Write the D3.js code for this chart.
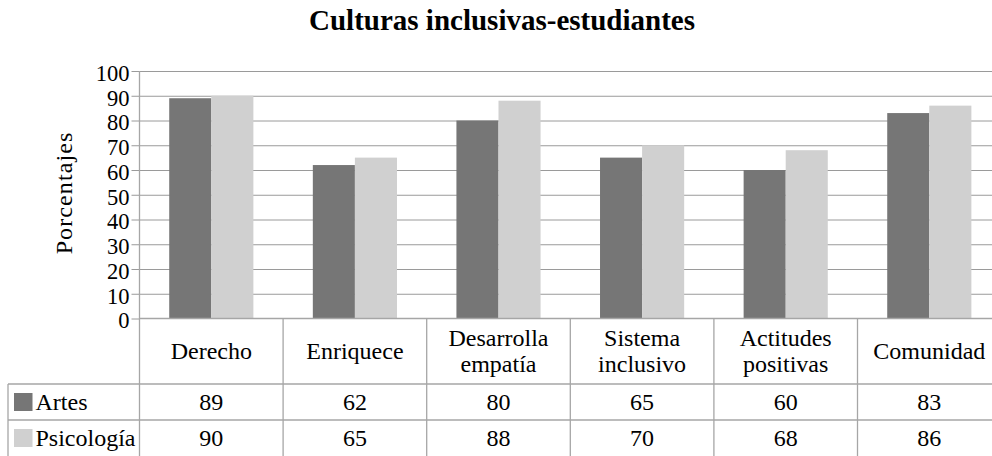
<!DOCTYPE html>
<html>
<head>
<meta charset="utf-8">
<script src="https://cdn.jsdelivr.net/npm/d3@7"></script>
<style>
  html, body { margin: 0; padding: 0; background: #fff; }
  svg { display: block; overflow: hidden; }
  text { font-family: "Liberation Serif", "Times New Roman", serif; fill: #000; }
  .grid line { stroke: #9a9a9a; stroke-width: 1; }
  .grid path { display: none; }
  .axis line, .axis path { stroke: #9a9a9a; }
  .axis text { font-size: 22.5px; font-family: "Liberation Serif", "Times New Roman", serif; }
  .cell { font-size: 24px; }
  .title { font-size: 29px; font-weight: bold; }
</style>
</head>
<body>
<div id="chart"></div>
<script>
let categories = [["Derecho"], ["Enriquece"], ["Desarrolla", "empatía"], ["Sistema", "inclusivo"], ["Actitudes", "positivas"], ["Comunidad"]];
let seriesNames = ["Artes", "Psicología"];
let artes = [89, 62, 80, 65, 60, 83];
let psicologia = [90, 65, 88, 70, 68, 86];
let yTicks = [0, 10, 20, 30, 40, 50, 60, 70, 80, 90, 100];
let colors = ["#767676", "#d0d0d0"];

let canvasWidth = 992;
let canvasHeight = 456;
let plotLeft = 139.5;
let plotTop = 71;
let plotBottom = 318.5;
let step = 143.6;
let plotRight = plotLeft + step * categories.length;
let rowY = [plotBottom, 384, 420, 456];
let tableLeft = 8;

let svg = d3.select("#chart")
    .append("svg")
    .attr("width", canvasWidth)
    .attr("height", canvasHeight);

let keys = categories.map(d => d.join(" "));
let series = [artes, psicologia];

let xScale = d3.scaleBand()
    .domain(keys)
    .range([plotLeft, plotRight]);

let pad = xScale.bandwidth() * 0.207;
let xInner = d3.scaleBand()
    .domain(seriesNames)
    .range([pad, xScale.bandwidth() - pad]);

let yScale = d3.scaleLinear()
    .domain([0, 100])
    .range([plotBottom, plotTop]);

// title
svg.append("text")
    .attr("class", "title")
    .attr("x", 502)
    .attr("y", 30)
    .attr("text-anchor", "middle")
    .text("Culturas inclusivas-estudiantes");

// y label
svg.append("text")
    .attr("class", "cell")
    .attr("text-anchor", "middle")
    .attr("letter-spacing", "1.1px")
    .attr("transform", "translate(" + 72 + ", " + 193 + ") rotate(-90)")
    .text("Porcentajes");

// horizontal grid lines
svg.append("g")
    .attr("class", "grid")
    .attr("transform", "translate(" + plotLeft + ", 0)")
    .call(d3.axisRight(yScale)
        .tickValues(yTicks.slice(1))
        .tickSize(plotRight - plotLeft)
        .tickFormat(""));

// y axis
svg.append("g")
    .attr("class", "axis")
    .attr("transform", "translate(" + plotLeft + ", 0)")
    .call(d3.axisLeft(yScale)
        .tickValues(yTicks)
        .tickSize(8)
        .tickPadding(2)
        .tickSizeOuter(0))
    .call(g => g.select(".domain").remove())
    .call(g => g.selectAll("text").attr("dy", "0.42em"));

// bars
let groups = svg.append("g")
    .selectAll("g")
    .data(keys)
    .join("g")
    .attr("transform", d => "translate(" + xScale(d) + ", 0)");

groups.selectAll("rect")
    .data((d, i) => seriesNames.map((s, j) => ({ name: s, value: series[j][i], idx: j })))
    .join("rect")
    .attr("x", d => xInner(d.name))
    .attr("width", xInner.bandwidth())
    .attr("y", d => yScale(d.value))
    .attr("height", d => plotBottom - yScale(d.value))
    .attr("fill", d => colors[d.idx]);

// data table lines
let table = svg.append("g")
    .attr("stroke", "#a6a6a6")
    .attr("stroke-width", 1.3);

table.append("line")
    .attr("x1", plotLeft).attr("x2", plotRight)
    .attr("y1", plotBottom).attr("y2", plotBottom);

rowY.slice(1, 3).forEach(y => {
    table.append("line")
        .attr("x1", tableLeft).attr("x2", plotRight)
        .attr("y1", y).attr("y2", y);
});

// vertical lines: axis + dividers
table.append("line")
    .attr("x1", plotLeft).attr("x2", plotLeft)
    .attr("y1", plotTop).attr("y2", canvasHeight);

keys.forEach(k => {
    let x = xScale(k) + xScale.bandwidth();
    table.append("line")
        .attr("x1", x).attr("x2", x)
        .attr("y1", plotBottom).attr("y2", canvasHeight);
});

table.append("line")
    .attr("x1", tableLeft).attr("x2", tableLeft)
    .attr("y1", rowY[1]).attr("y2", canvasHeight);

// category labels
categories.forEach((lines, i) => {
    let cx = xScale(keys[i]) + xScale.bandwidth() / 2;
    let t = svg.append("text")
        .attr("class", "cell")
        .attr("text-anchor", "middle");
    let first = lines.length === 1 ? 359 : 346;
    lines.forEach((line, j) => {
        t.append("tspan")
            .attr("x", cx)
            .attr("y", first + j * 26)
            .text(line);
    });
});

// legend keys and values
seriesNames.forEach((s, j) => {
    let top = rowY[j + 1];
    let mid = (top + rowY[j + 2]) / 2;
    svg.append("rect")
        .attr("x", 14)
        .attr("y", mid - 9)
        .attr("width", 18.5)
        .attr("height", 18)
        .attr("fill", colors[j]);
    svg.append("text")
        .attr("class", "cell")
        .attr("x", 35.5)
        .attr("y", mid + 7.5)
        .text(s);
    series[j].forEach((v, i) => {
        svg.append("text")
            .attr("class", "cell")
            .attr("text-anchor", "middle")
            .attr("x", xScale(keys[i]) + xScale.bandwidth() / 2)
            .attr("y", mid + 7.5)
            .text(v);
    });
});
</script>
</body>
</html>
